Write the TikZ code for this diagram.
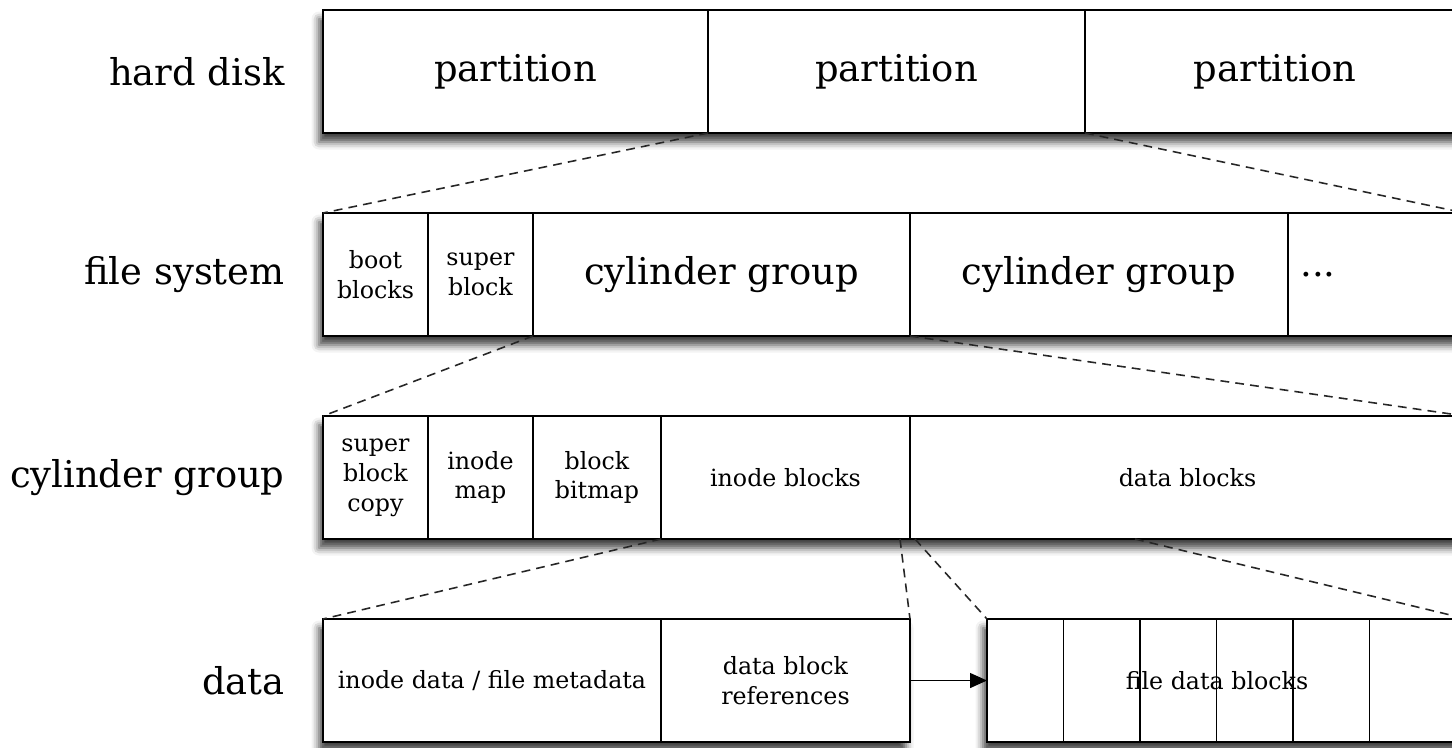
\documentclass[tikz,border=0pt]{standalone}
\usepackage{fontspec}
\setmainfont{DejaVu Serif}
\usetikzlibrary{positioning,fit,backgrounds,arrows.meta,shadows.blur}

\begin{document}
\begin{tikzpicture}[node distance=0cm,
  seg/.style={draw,line width=1.1pt,minimum height=2.46cm,inner sep=0pt,outer sep=0pt,align=center},
  bigtext/.style={font=\fontsize{21}{24}\selectfont},
  smalltext/.style={font=\fontsize{13.5}{17}\selectfont},
  rowlabel/.style={bigtext,inner sep=0pt},
  rowshadow/.style={fill=white,inner sep=0pt,outer sep=0pt,
    blur shadow={shadow xshift=-0.08cm,shadow yshift=-0.18cm,shadow blur radius=0.15cm,shadow opacity=75}},
  zoomline/.style={dash pattern=on 5pt off 3.5pt,line width=0.9pt,black!85}]
  \clip (0,0) rectangle (29.04,-14.94);

  % hard disk
  \node[seg,bigtext,minimum width=7.7cm,anchor=north west](part1) at (6.46,-0.2) {partition};
  \node[seg,bigtext,minimum width=7.54cm,right=of part1](part2) {partition};
  \node[seg,bigtext,minimum width=7.6cm,right=of part2](part3) {partition};
  \node[rowlabel,left=0.76cm of part1](hdlabel) {hard disk};

  % file system
  \node[seg,smalltext,minimum width=2.1cm,below=1.6cm of part1.south west,anchor=north west](boot) {boot\\blocks};
  \node[seg,smalltext,minimum width=2.1cm,right=of boot](super) {super\\block};
  \node[seg,bigtext,minimum width=7.54cm,right=of super](cg1) {cylinder group};
  \node[seg,bigtext,minimum width=7.56cm,right=of cg1](cg2) {cylinder group};
  \node[seg,bigtext,minimum width=3.54cm,right=of cg2](more) {\hspace*{-2.34cm}...};
  \node[rowlabel,left=0.76cm of boot](fslabel) {file system};

  % cylinder group
  \node[seg,smalltext,minimum width=2.1cm,below=1.6cm of boot.south west,anchor=north west](sbcopy) {super\\block\\copy};
  \node[seg,smalltext,minimum width=2.1cm,right=of sbcopy](imap) {inode\\map};
  \node[seg,smalltext,minimum width=2.56cm,right=of imap](bbmap) {block\\bitmap};
  \node[seg,smalltext,minimum width=4.98cm,right=of bbmap](iblk) {inode blocks};
  \node[seg,smalltext,minimum width=11.1cm,right=of iblk](dblk) {data blocks};
  \node[rowlabel,left=0.76cm of sbcopy](cglabel) {cylinder group};

  % data
  \node[seg,smalltext,minimum width=6.76cm,below=1.6cm of sbcopy.south west,anchor=north west](meta) {inode data / file metadata};
  \node[seg,smalltext,minimum width=4.98cm,right=of meta](refs) {data block\\references};
  \node[seg,smalltext,minimum width=9.6cm,right=1.54cm of refs](files) {\hspace*{-0.4cm}file data blocks};
  \foreach \i in {1,...,5}
    \draw[line width=1pt] ([xshift=\i*1.53cm]files.north west) -- ([xshift=\i*1.53cm]files.south west);
  \node[rowlabel,left=0.76cm of meta](datalabel) {data};

  \begin{scope}[on background layer]
    \node[rowshadow,fit=(part1)(part3)](hdrow) {};
    \node[rowshadow,fit=(boot)(more)](fsrow) {};
    \node[rowshadow,fit=(sbcopy)(dblk)](cgrow) {};
    \node[rowshadow,fit=(meta)(refs)](metarow) {};
    \node[rowshadow,fit=(files)](filesrow) {};
  \end{scope}

  \draw[zoomline] (part1.south east) -- (boot.north west);
  \draw[zoomline] (part2.south east) -- (more.north east);
  \draw[zoomline] (cg1.south west) -- (sbcopy.north west);
  \draw[zoomline] (cg1.south east) -- (dblk.north east);
  \draw[zoomline] (iblk.south west) -- (meta.north west);
  \draw[zoomline] ([xshift=-0.2cm]iblk.south east) -- (refs.north east);
  \draw[zoomline] ([xshift=0.1cm]iblk.south east) -- (files.north west);
  \draw[zoomline] ([xshift=4.5cm]dblk.south west) -- (files.north east);
  \draw[-{Triangle[length=0.34cm,width=0.3cm]},line width=0.8pt] (refs.east) -- (files.west);
\end{tikzpicture}
\end{document}
